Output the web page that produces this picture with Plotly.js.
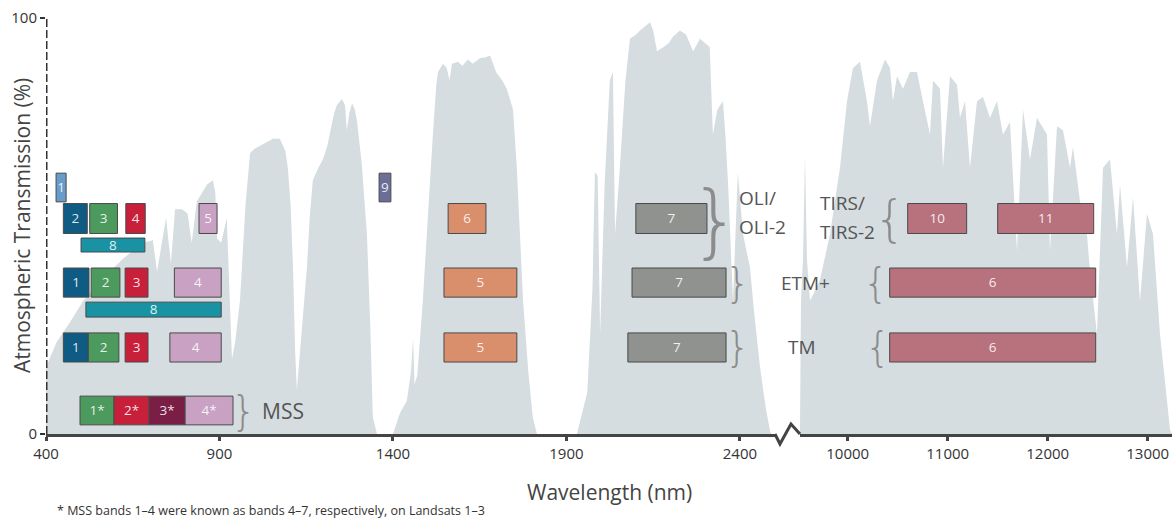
<!DOCTYPE html>
<html>
<head>
<meta charset="utf-8">
<script src="https://cdn.plot.ly/plotly-3.0.1.min.js"></script>
<style>html,body{margin:0;padding:0;background:#fff;}#chart{width:1176px;height:521px;}</style>
</head>
<body>
<div id="chart"></div>
<script>
// ---- Atmospheric transmission curve, reflective part (nm, %)
const wlReflective = [400,430,470,507,560,620,680,708,720,733,746,760,772,792,808,820,835,850,864,881,888,893,905,921,928,936,945,959,975,988,1000,1030,1054,1074,1090,1097,1105,1112,1118,1123,1130,1145,1152,1160,1169,1185,1198,1210,1218,1230,1238,1253,1262,1267,1274,1282,1290,1296,1310,1325,1335,1342,1354,
  1400,1420,1440,1452,1458,1462,1470,1486,1500,1515,1525,1530,1544,1555,1563,1570,1587,1600,1616,1630,1651,1665,1680,1697,1715,1728,1746,1757,1766,1775,1790,1803,1815,
  1930,1945,1960,1975,1982,1990,1997,2010,2025,2034,2040,2054,2070,2083,2100,2112,2125,2141,2150,2161,2180,2195,2207,2227,2245,2255,2265,2285,2300,2313,2322,2335,2351,2358,2366,2380,2394,2401,2409,2429,2440,2458,2475,2486,2490];
const transReflective = [16,22,27,32,37,42,46,46.6,39,45,52,41,54,54,53,46,56,58,60,61,58,47,46,52,35,18,22,32,55,67.5,68.5,70,71,71,68,64,55,40,20,10.6,18,33,40,52,61,64,66,69,72,77,79,80.5,79,73,77,79.5,78,75.5,65,48,25,4,0,
  0,5,8,15,23,12,14,32,52,72,84,87,89,88,85,89,89.5,88.5,90,89,90.4,90.5,91,87,85,83,78,64,48,32,15,4,0,
  0,5,10,35,63,62,24,60,85,87,48,64,85,95,96,97,98,99,97,92,93,94,95.5,97,96,94,92,95,94,93,72,78,80,72,60,32,63,55,48,40,30,16,6,1,0];
// ---- Thermal part (nm, %)
const wlThermal = [9523,9533,9553,9573,9593,9623,9723,9823,9923,9993,10053,10123,10193,10223,10293,10373,10423,10453,10493,10553,10623,10693,10753,10823,10853,10923,10953,11023,11093,11123,11173,11223,11293,11353,11423,11493,11553,11623,11693,11753,11823,11893,11993,12023,12093,12153,12223,12253,12323,12393,12423,12493,12553,12623,12693,12723,12793,12853,12923,12993,13053,13123,13193,13223,13243];
const transThermal = [0,32,42,67,42,32,37,48,64,80,88,89.5,80,74,85,90,88,80,86,83,87,87,80,72,85,83,64,86,84,76,80,64,80,81,76,80,72,75,44,78,66,76,72,44,74,73,64,69,56,48,39,24,64,66,48,60,40,57,32,53,48,24,8,1,0];

// ---- Landsat bands
const bandSensor = ['OLI','OLI','OLI','OLI','OLI','OLI','OLI','OLI','OLI','TIRS','TIRS',
  'ETM+','ETM+','ETM+','ETM+','ETM+','ETM+','ETM+','ETM+',
  'TM','TM','TM','TM','TM','TM','TM',
  'MSS','MSS','MSS','MSS'];
const bandLabel = ['1','2','3','4','5','6','7','8','9','10','11',
  '1','2','3','4','5','7','8','6',
  '1','2','3','4','5','7','6',
  '1*','2*','3*','4*'];
const bandLo = [429,450,526,630,841,1559,2100,501,1360,10600,11500,
  450,530,628,770,1547,2089,515,10420,
  450,522,628,757,1547,2077,10420,
  498,596,697,801];
const bandHi = [458,519,606,686,893,1668,2305,685,1394,11190,12460,
  524,613,694,905,1757,2360,905,12480,
  522,610,694,905,1757,2360,12480,
  596,697,801,939];
const bandKind = ['coastal','blue','green','red','nir','swir1','swir2','pan','cirrus','tir','tir',
  'blue','green','red','nir','swir1','swir2','pan','tir',
  'blue','green','red','nir','swir1','swir2','tir',
  'green','red','nir1','nir'];
const bandRow = ['oliTop','oli','oli','oli','oli','oli','oli','oliPan','oliTop','oli','oli',
  'etm','etm','etm','etm','etm','etm','etmPan','etm',
  'tm','tm','tm','tm','tm','tm','tm',
  'mss','mss','mss','mss'];

// ---- styles / placement
const kindColor = {coastal:'#689ccb', blue:'#0f5b84', green:'#4c9a5d', red:'#c81f3b', nir:'#c8a1c3',
  pan:'#1992a3', swir1:'#d98f6b', swir2:'#8f928e', cirrus:'#6b6f97', tir:'#b8727e', nir1:'#7a1e46'};
const rowSpan = {oliTop:[55.8,62.7], oli:[48.2,55.4], oliPan:[43.75,47.1], etm:[32.9,39.9],
  etmPan:[28.1,31.7], tm:[17.3,24.3], mss:[2.2,9.1]};
const FONT = 'Open Sans, Noto Sans, sans-serif';

const shapes = [];
for (let i = 0; i < bandLabel.length; i++) {
  const r = rowSpan[bandRow[i]];
  shapes.push({
    type:'rect', xref: bandHi[i] > 5000 ? 'x2' : 'x', yref:'y',
    x0: bandLo[i], x1: bandHi[i], y0: r[0], y1: r[1],
    fillcolor: kindColor[bandKind[i]], line:{color:'#4a4a4a', width:1}, layer:'above',
    label:{text: bandLabel[i], font:{family:FONT, size:13.5, color:'rgba(255,255,255,0.88)'}, textposition:'middle center'}
  });
}
// dashed y axis
shapes.push({type:'line', xref:'x', yref:'y', x0:400, x1:400, y0:0, y1:100,
  line:{color:'#333', width:3, dash:'8px,3px'}});

const xDom = [0, 0.6474], x2Dom = [0.6696, 1];
// axis break zigzag
const plotW = 1126, plotH = 416;
const bx0 = xDom[1], bx3 = x2Dom[0], bw = bx3 - bx0;
shapes.push({type:'path', xref:'paper', yref:'paper',
  path: 'M' + bx0 + ',0 L' + (bx0 + bw*0.2) + ',' + (-10/plotH) + ' L' + (bx0 + bw*0.64) + ',' + (10/plotH) + ' L' + bx3 + ',0',
  line:{color:'#444', width:3}});

const grey = '#555';
const braceFont = (s) => ({family:'DejaVu Sans', size:s, color:'#8c8c8c', weight:200});
const lab = (t, x, xref, y, anchor) => ({text:t, x:x, xref:xref, y:y, yref:'y', xanchor:anchor||'left', yanchor:'middle', showarrow:false, font:{family:FONT, size:19, color:grey}});
const mid = (k) => (rowSpan[k][0] + rowSpan[k][1]) / 2;
const annotations = [
  lab('OLI/', 2391, 'x', 56.7), lab('OLI-2', 2391, 'x', 49.8),
  lab('TIRS/', 9703, 'x2', 55.5), lab('TIRS-2', 9703, 'x2', 48.6),
  lab('ETM+', (806-46)/plotW, 'paper', mid('etm'), 'center'),
  lab('TM', (802-46)/plotW, 'paper', mid('tm'), 'center'),
  Object.assign(lab('MSS', 1017, 'x', mid('mss')), {font:{family:FONT, size:21, color:grey}}),
  {text:'}', x:2331, xref:'x', y:51.4, yref:'y', showarrow:false, font:braceFont(80)},
  {text:'}', x:2394, xref:'x', y:mid('etm'), yref:'y', showarrow:false, font:braceFont(40)},
  {text:'}', x:2394, xref:'x', y:mid('tm'), yref:'y', showarrow:false, font:braceFont(40)},
  {text:'}', x:968, xref:'x', y:mid('mss'), yref:'y', showarrow:false, font:braceFont(40)},
  {text:'{', x:10423, xref:'x2', y:mid('oli'), yref:'y', showarrow:false, font:braceFont(50)},
  {text:'{', x:10283, xref:'x2', y:mid('etm'), yref:'y', showarrow:false, font:braceFont(40)},
  {text:'{', x:10303, xref:'x2', y:mid('tm'), yref:'y', showarrow:false, font:braceFont(40)},
  {text:'Atmospheric Transmission (%)', xref:'paper', yref:'paper', x:-24/plotW, y:0.5, xanchor:'center', yanchor:'middle',
   textangle:-90, showarrow:false, font:{family:FONT, size:21, color:'#444'}},
  {text:'Wavelength (nm)', xref:'paper', yref:'paper', x:0.5, y:-58/plotH, xanchor:'center', yanchor:'middle', showarrow:false,
   font:{family:FONT, size:21, color:'#444'}},
  {text:'* MSS bands 1–4 were known as bands 4–7, respectively, on Landsats 1–3', xref:'paper', yref:'paper',
   x:9/plotW, y:-76/plotH, xanchor:'left', yanchor:'middle', showarrow:false, font:{family:FONT, size:12.5, color:'#333'}}
];

const axisCommon = {showline:true, linecolor:'#444', linewidth:3, ticks:'outside', ticklen:4, tickwidth:3,
  tickcolor:'#444', showgrid:false, zeroline:false, tickfont:{family:FONT, size:15, color:'#333'}, anchor:'y', fixedrange:true, tickformat:'d'};

const data = [
  {type:'scatter', mode:'lines', x:wlReflective, y:transReflective, xaxis:'x', yaxis:'y',
   fill:'tozeroy', fillcolor:'#d5dde0', line:{width:0, color:'#d5dde0'}, hoverinfo:'skip'},
  {type:'scatter', mode:'lines', x:wlThermal, y:transThermal, xaxis:'x2', yaxis:'y',
   fill:'tozeroy', fillcolor:'#d5dde0', line:{width:0, color:'#d5dde0'}, hoverinfo:'skip'}
];

const layout = {
  width:1176, height:521, margin:{l:46, r:4, t:18, b:87},
  paper_bgcolor:'#fff', plot_bgcolor:'#fff', showlegend:false,
  xaxis: Object.assign({}, axisCommon, {domain:xDom, range:[400,2501], tickvals:[400,900,1400,1900,2400]}),
  xaxis2: Object.assign({}, axisCommon, {domain:x2Dom, range:[9523,13243], tickvals:[10000,11000,12000,13000]}),
  yaxis: {range:[0,100], tickvals:[0,100], showline:false, ticks:'outside', ticklen:5, tickwidth:2, tickcolor:'#333',
    showgrid:false, zeroline:false, tickfont:{family:FONT, size:15, color:'#333'}, fixedrange:true},
  shapes: shapes, annotations: annotations
};
Plotly.newPlot('chart', data, layout, {displayModeBar:false, staticPlot:true});
</script>
</body>
</html>
